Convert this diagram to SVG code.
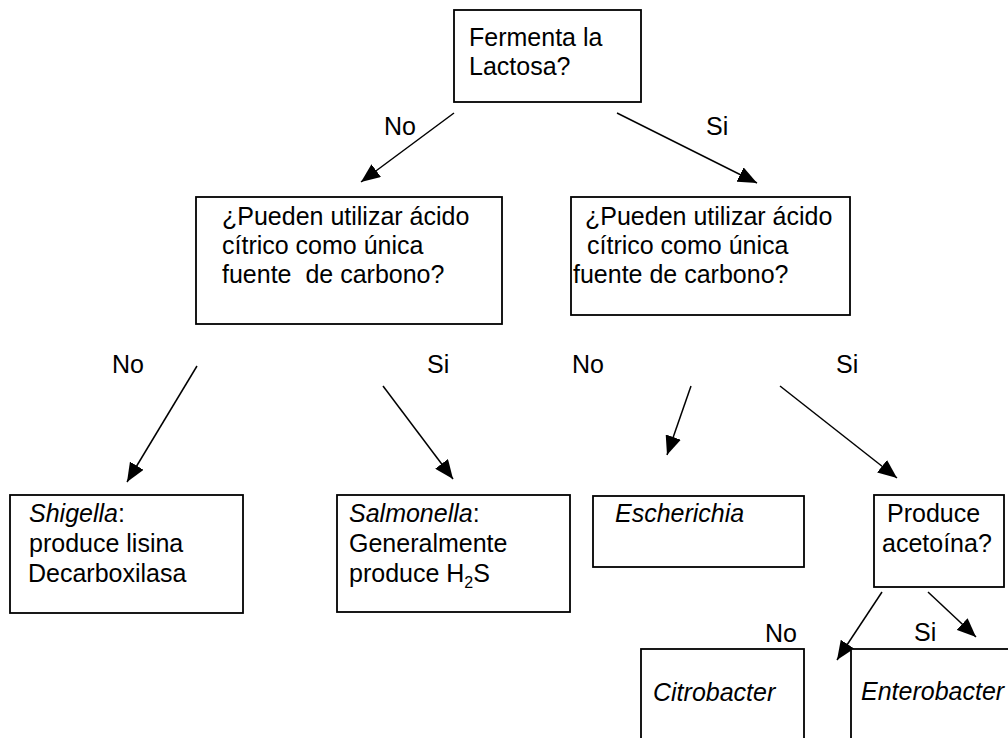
<svg xmlns="http://www.w3.org/2000/svg" width="1008" height="738" viewBox="0 0 1008 738">
<style>
  text { font-family: "Liberation Sans", Arial, sans-serif; font-size: 25px; fill: #000; white-space: pre; }
  .i { font-style: italic; }
  .box { fill: #fff; stroke: #000; stroke-width: 1.8; }
  .arr { stroke: #000; stroke-width: 1.5; fill: none; marker-end: url(#ah); }
</style>
<defs>
  <marker id="ah" markerUnits="userSpaceOnUse" markerWidth="20" markerHeight="16" viewBox="0 0 20 16" refX="19" refY="8" orient="auto">
    <path d="M0,0 L19,8 L0,16 z" fill="#000"/>
  </marker>
</defs>
<rect width="1008" height="738" fill="#fff"/>

<g id="connectors">
  <line class="arr" x1="454" y1="113" x2="361" y2="182"/>
  <line class="arr" x1="617" y1="113" x2="757" y2="183"/>
  <line class="arr" x1="197" y1="366" x2="127" y2="482"/>
  <line class="arr" x1="383" y1="386" x2="453" y2="479"/>
  <line class="arr" x1="691" y1="386" x2="667" y2="455"/>
  <line class="arr" x1="780" y1="386" x2="897" y2="478"/>
  <line class="arr" x1="882" y1="592" x2="837" y2="660"/>
  <line class="arr" x1="928" y1="592" x2="976" y2="637"/>
  <text x="384" y="135">No</text>
  <text x="706" y="135">Si</text>
  <text x="112" y="373">No</text>
  <text x="427" y="373">Si</text>
  <text x="572" y="373">No</text>
  <text x="836" y="373">Si</text>
  <text x="765" y="642">No</text>
  <text x="914" y="641">Si</text>
</g>

<g id="n-lactosa">
  <rect class="box" x="454" y="10" width="187" height="92"/>
  <text x="469" y="46">Fermenta la</text>
  <text x="469" y="75">Lactosa?</text>
</g>

<g id="n-citrico-no">
  <rect class="box" x="196" y="197" width="306" height="127"/>
  <text x="222" y="225">¿Pueden utilizar ácido</text>
  <text x="222" y="254">cítrico como única</text>
  <text x="222" y="283">fuente  de carbono?</text>
</g>

<g id="n-citrico-si">
  <rect class="box" x="571" y="197" width="279" height="118"/>
  <text x="585" y="225">¿Pueden utilizar ácido</text>
  <text x="587" y="254">cítrico como única</text>
  <text x="573" y="283">fuente de carbono?</text>
</g>

<g id="n-shigella">
  <rect class="box" x="10" y="495" width="233" height="118"/>
  <text x="29" y="522"><tspan class="i">Shigella</tspan>:</text>
  <text x="29" y="552">produce lisina</text>
  <text x="28" y="582">Decarboxilasa</text>
</g>

<g id="n-salmonella">
  <rect class="box" x="337" y="495" width="233" height="117"/>
  <text x="349" y="522"><tspan class="i">Salmonella</tspan>:</text>
  <text x="349" y="552">Generalmente</text>
  <text x="349" y="582">produce H<tspan font-size="16" dy="6">2</tspan><tspan dy="-6">S</tspan></text>
</g>

<g id="n-escherichia">
  <rect class="box" x="593" y="496" width="211" height="71"/>
  <text class="i" x="615" y="522">Escherichia</text>
</g>

<g id="n-acetoina">
  <rect class="box" x="874" y="495" width="130" height="92"/>
  <text x="887" y="522">Produce</text>
  <text x="882" y="552">acetoína?</text>
</g>

<g id="n-citrobacter">
  <rect class="box" x="641" y="649" width="163" height="110"/>
  <text class="i" x="653" y="701">Citrobacter</text>
</g>

<g id="n-enterobacter">
  <rect class="box" x="851" y="649" width="170" height="110"/>
  <text class="i" x="861" y="700">Enterobacter</text>
</g>
</svg>
